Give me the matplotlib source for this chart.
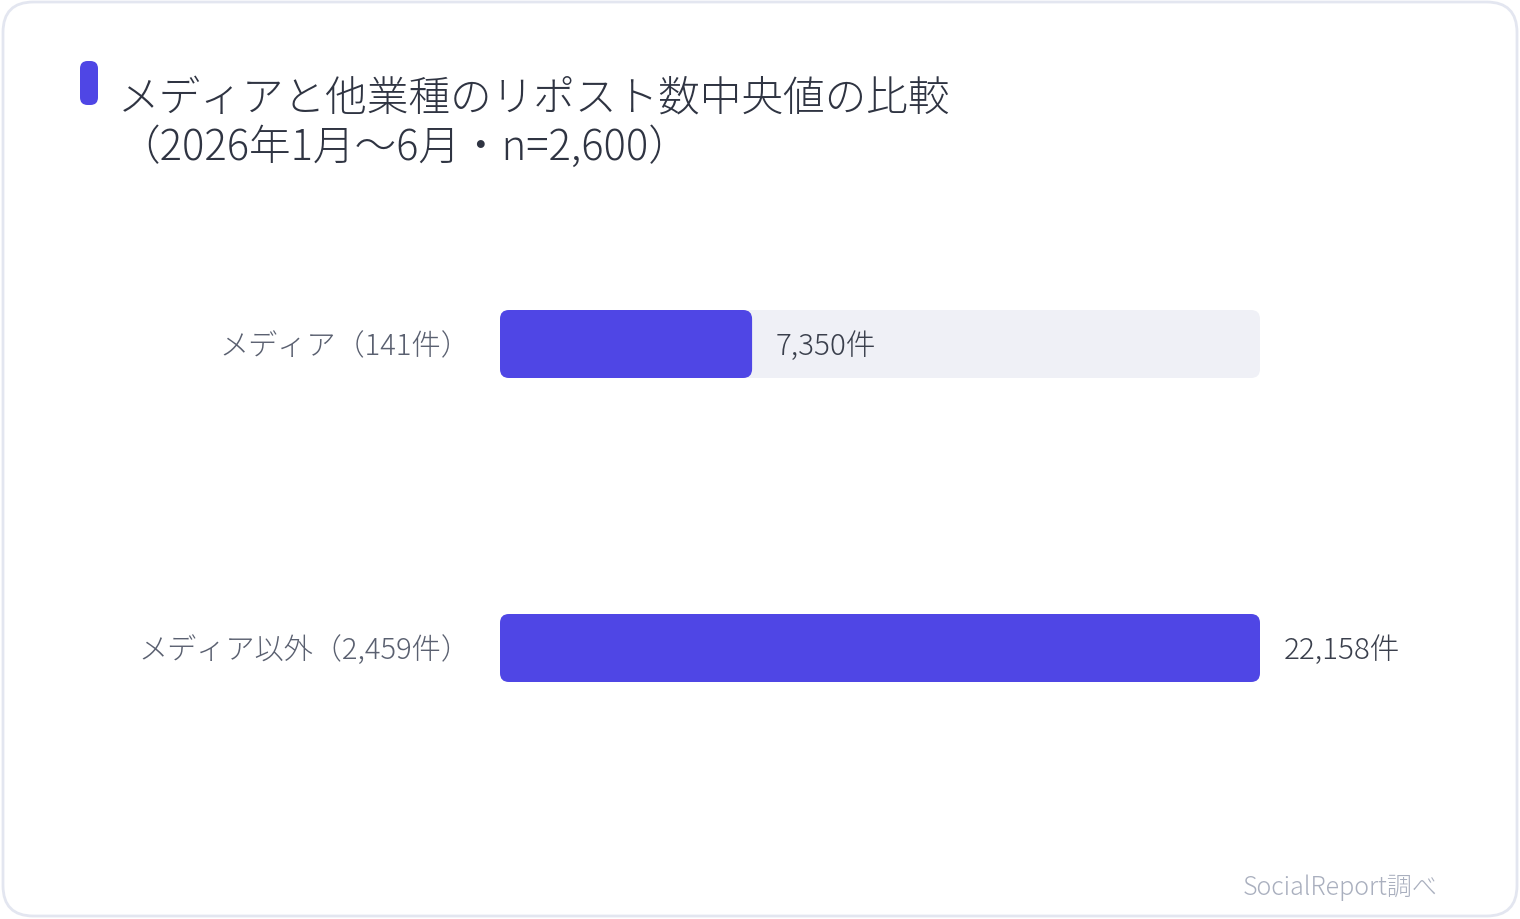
import matplotlib.pyplot as plt
from matplotlib.patches import FancyBboxPatch
import numpy as np

plt.rcParams['font.family'] = ['Noto Sans CJK JP', 'DejaVu Sans']

# data
categories = ['メディア（141件）', 'メディア以外（2,459件）']
values = [7350, 22158]
value_labels = ['7,350件', '22,158件']
title = 'メディアと他業種のリポスト数中央値の比較\n（2026年1月〜6月・n=2,600）'
source = 'SocialReport調べ'

bar_color = '#4f46e5'
track_color = '#eff0f6'
W, H = 1520, 920

fig = plt.figure(figsize=(W / 100, H / 100), dpi=100)
fig.patch.set_facecolor('white')

# card border
card = FancyBboxPatch((3 / W, 3 / H), (W - 6) / W, (H - 6) / H,
                      boxstyle='round,pad=0,rounding_size=0.02',
                      mutation_aspect=W / H,
                      transform=fig.transFigure, facecolor='none',
                      edgecolor='#e3e6f0', linewidth=2, zorder=-1)
fig.patches.append(card)

# title marker
marker = FancyBboxPatch((80 / W, 1 - 106 / H), 18 / W, 44 / H,
                        boxstyle='round,pad=0,rounding_size=0.005',
                        mutation_aspect=W / H,
                        transform=fig.transFigure, facecolor=bar_color,
                        edgecolor='none')
fig.patches.append(marker)

fig.text(118 / W, 1 - 77 / H, title, fontsize=30, color='#2f3442',
         ha='left', va='top', fontweight='light', linespacing=1.17)

# plot area: 500..1260 px wide, bar centres at 345 and 649 px
ax = fig.add_axes([500 / W, 1 - 801 / H, 760 / W, 608 / H])
vmax = max(values)
ax.set_xlim(0, vmax)
ax.set_ylim(1.5, -0.5)
ax.axis('off')

xpp = vmax / 760.0   # data units per pixel (x)
ypp = 2.0 / 608.0    # data units per pixel (y)
bh = 68 * ypp
r = 9 * xpp
asp = ypp / xpp
dy = 2 * ypp

for i, (cat, v, lab) in enumerate(zip(categories, values, value_labels)):
    ax.add_patch(FancyBboxPatch((0, i - bh / 2), vmax, bh,
                                boxstyle=f'round,pad=0,rounding_size={r}',
                                mutation_aspect=asp,
                                facecolor=track_color, edgecolor='none'))
    ax.add_patch(FancyBboxPatch((0, i - bh / 2), v, bh,
                                boxstyle=f'round,pad=0,rounding_size={r}',
                                mutation_aspect=asp,
                                facecolor=bar_color, edgecolor='none'))
    ax.text(-30 * xpp, i + dy, cat, ha='right', va='center', fontsize=21,
            color='#5a6070', fontweight='light')
    ax.text(v + 24 * xpp, i + dy, lab, ha='left', va='center', fontsize=21.3,
            color='#3a3f4c', fontweight='light')

fig.text(1438 / W, 1 - 888 / H, source, ha='right', va='center',
         fontsize=18, color='#a9afbe', fontweight='light')

plt.savefig('out.png', dpi=100, facecolor='white')
